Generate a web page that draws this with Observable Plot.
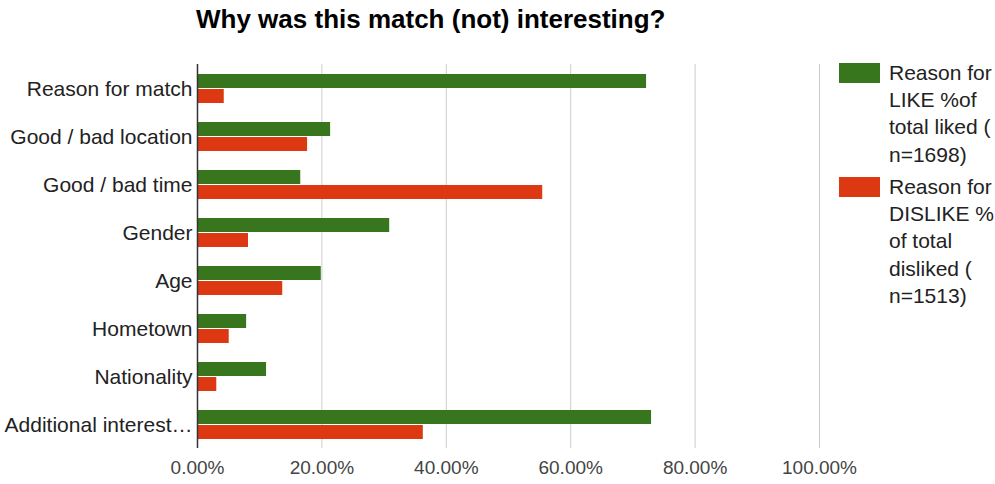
<!DOCTYPE html>
<html>
<head>
<meta charset="utf-8">
<script src="https://cdn.jsdelivr.net/npm/d3@7"></script>
<script src="https://cdn.jsdelivr.net/npm/@observablehq/plot@0.6"></script>
<style>
  html, body { margin: 0; padding: 0; background: #fff; }
  #wrap { position: relative; width: 995px; height: 484px; font-family: "Liberation Sans", Arial, sans-serif; }
  #title { position: absolute; left: 196px; top: 4px; font-size: 26px; line-height: 30px; font-weight: bold; color: #000; white-space: nowrap; }
  .leg { position: absolute; left: 839px; }
  .sw { position: absolute; left: 0; width: 41px; height: 20px; }
  .lt { position: absolute; left: 50px; font-size: 21px; line-height: 27.2px; color: #222; white-space: nowrap; }
  svg { position: absolute; left: 0; top: 0; }
</style>
</head>
<body>
<div id="wrap"></div>
<script>
const categories = ["Reason for match", "Good / bad location", "Good / bad time", "Gender", "Age", "Hometown", "Nationality", "Additional interest…"];
const likeValues = [0.722, 0.214, 0.166, 0.309, 0.199, 0.079, 0.111, 0.730];
const dislikeValues = [0.043, 0.177, 0.555, 0.082, 0.137, 0.051, 0.031, 0.363];
const seriesNames = ["Reason for LIKE %of total liked ( n=1698)", "Reason for DISLIKE % of total disliked ( n=1513)"];
const legendLines = [["Reason for", "LIKE %of", "total liked (", "n=1698)"], ["Reason for", "DISLIKE %", "of total", "disliked (", "n=1513)"]];
const xTicks = [0, 0.2, 0.4, 0.6, 0.8, 1.0];
const colors = ["#38761d", "#dc3912"];

const likeData = categories.map((c, i) => ({category: c, value: likeValues[i]}));
const dislikeData = categories.map((c, i) => ({category: c, value: dislikeValues[i]}));

const chart = Plot.plot({
  width: 995,
  height: 484,
  marginLeft: 197,
  marginRight: 176,
  marginTop: 64,
  marginBottom: 36,
  style: {fontFamily: "Liberation Sans, Arial, sans-serif", background: "transparent"},
  x: {domain: [0, 1], ticks: xTicks, tickFormat: d3.format(".2%")},
  y: {domain: categories, padding: 0.4, paddingOuter: 0.2},
  marks: [
    Plot.gridX(xTicks, {stroke: "#ccc", strokeOpacity: 1, strokeWidth: 1}),
    Plot.barX(likeData, {x: "value", y: "category", fill: colors[0], insetBottom: 15}),
    Plot.barX(dislikeData, {x: "value", y: "category", fill: colors[1], insetTop: 15}),
    Plot.ruleX([0], {stroke: "#333", strokeWidth: 1.5}),
    Plot.axisX({ticks: xTicks, tickFormat: d3.format(".2%"), tickSize: 0, tickPadding: 12, fontSize: 19, color: "#444", label: null}),
    Plot.axisY({tickSize: 0, tickPadding: 5, fontSize: 21, color: "#222", label: null})
  ]
});

const wrap = document.getElementById("wrap");
wrap.appendChild(chart);

const title = document.createElement("div");
title.id = "title";
title.textContent = "Why was this match (not) interesting?";
wrap.appendChild(title);

const legTops = [63, 177];
legendLines.forEach((lines, k) => {
  const g = document.createElement("div");
  g.className = "leg";
  g.style.top = legTops[k] + "px";
  g.title = seriesNames[k];
  const sw = document.createElement("div");
  sw.className = "sw";
  sw.style.background = colors[k];
  g.appendChild(sw);
  const t = document.createElement("div");
  t.className = "lt";
  t.style.top = "-4px";
  t.innerHTML = lines.join("<br>");
  g.appendChild(t);
  wrap.appendChild(g);
});
</script>
</body>
</html>
